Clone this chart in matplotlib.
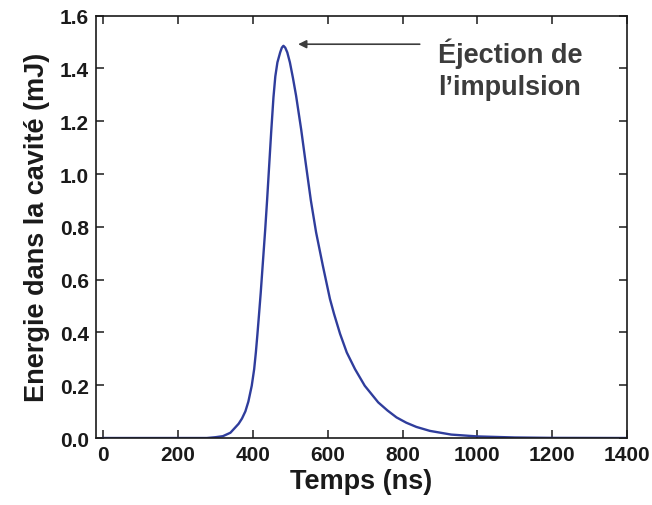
import matplotlib
matplotlib.use('Agg')
import matplotlib.pyplot as plt

plt.rcParams['font.family'] = ['Liberation Sans', 'DejaVu Sans']
plt.rcParams['font.weight'] = 'bold'

# Energy in the cavity vs time
temps = [0, 250, 277, 300, 320, 340, 353, 362, 371, 380, 388, 397, 403.5, 408,
         412, 416, 421, 427, 433, 438, 443.5, 449, 455, 460, 465.6, 473, 477.5,
         481.7, 486.5, 492, 499, 507, 515.5, 529, 541, 555, 569, 587, 606, 617,
         633, 651, 673, 699, 735, 760, 784, 810, 837, 873, 930, 1000, 1100,
         1200, 1400]
energie = [0, 0, 0.0, 0.003, 0.007, 0.02, 0.04, 0.054, 0.074, 0.101, 0.138,
           0.198, 0.261, 0.324, 0.39, 0.46, 0.55, 0.67, 0.79, 0.90, 1.03, 1.16,
           1.29, 1.37, 1.423, 1.461, 1.479, 1.486, 1.479, 1.461, 1.423, 1.365,
           1.297, 1.170, 1.044, 0.90, 0.779, 0.653, 0.527, 0.470, 0.395, 0.324,
           0.261, 0.198, 0.135, 0.104, 0.078, 0.058, 0.042, 0.027, 0.013, 0.006,
           0.002, 0.0005, 0]

xticks = [0, 200, 400, 600, 800, 1000, 1200, 1400]
yticks = [0.0, 0.2, 0.4, 0.6, 0.8, 1.0, 1.2, 1.4, 1.6]

fig = plt.figure(figsize=(6.52, 5.06), dpi=100)
ax = fig.add_axes([0.1468, 0.1324, 0.8149, 0.8346])

ax.plot(temps, energie, color='#2f3d9c', linewidth=1.7)

ax.set_xlim(-20, 1400)
ax.set_ylim(0, 1.6)
ax.set_xticks(xticks)
ax.set_yticks(yticks)
ax.set_yticklabels(['%.1f' % v for v in yticks])

ax.tick_params(direction='in', length=5.5, width=1.1, top=True, right=True,
               labelsize=15, colors='#1a1a1a', pad=5)
for sp in ax.spines.values():
    sp.set_linewidth(1.2)
    sp.set_color('#1a1a1a')

ax.set_xlabel('Temps (ns)', fontsize=19.5, fontweight='bold', color='#1a1a1a', labelpad=3)
ax.set_ylabel('Energie dans la cavité (mJ)', fontsize=19.5, fontweight='bold',
              color='#1a1a1a', labelpad=7)

# Annotation
ax.annotate('', xy=(521, 1.492), xytext=(846, 1.492),
            arrowprops=dict(arrowstyle='-|>', color='#3c3c3c', lw=1.2,
                            mutation_scale=12, shrinkA=0, shrinkB=0))
ax.text(894, 1.303, 'Éjection de\nl\u2019impulsion', fontsize=19.5, fontweight='bold',
        color='#3c3c3c', ha='left', va='baseline', linespacing=1.3)

fig.savefig('out.png', dpi=100)
